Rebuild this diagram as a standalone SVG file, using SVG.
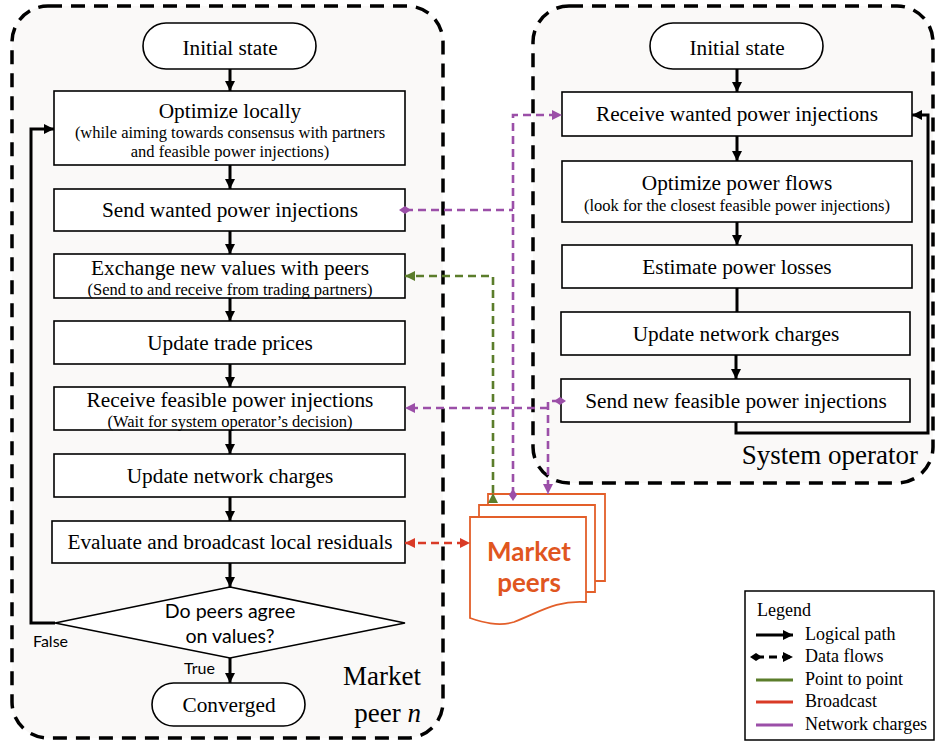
<svg xmlns="http://www.w3.org/2000/svg" width="935" height="744" viewBox="0 0 935 744">
<style>
.box{fill:#fff;stroke:#000;stroke-width:1.6}
.cont{fill:#faf9f8;stroke:#000;stroke-width:3.5;stroke-dasharray:14 9}
.t{font-family:"Liberation Serif","Times New Roman",serif;font-size:21.3px;fill:#000;text-anchor:middle}
.s{font-family:"Liberation Serif","Times New Roman",serif;font-size:16.5px;fill:#000;text-anchor:middle}
.big{font-family:"Liberation Serif","Times New Roman",serif;font-size:27px;fill:#000}
.sans{font-family:Lato,"Open Sans",sans-serif;font-size:19.6px;fill:#000;text-anchor:middle}
.lbl{font-family:Lato,"Open Sans",sans-serif;font-size:16px;fill:#000}
.flow{fill:none;stroke:#000;stroke-width:3}
.g{fill:none;stroke:#5b7d2b;stroke-width:2.6;stroke-dasharray:8 5}
.p{fill:none;stroke:#9b4fa8;stroke-width:2.6;stroke-dasharray:8 5}
.r{fill:none;stroke:#d93a26;stroke-width:2.6;stroke-dasharray:8 5}
.doc{fill:#fff;stroke:#e35f2a;stroke-width:1.8}
.lg{font-family:"Liberation Serif","Times New Roman",serif;font-size:18px;fill:#000}
</style>
<defs>
<marker id="ab" markerUnits="userSpaceOnUse" markerWidth="12" markerHeight="12" refX="10" refY="6" orient="auto"><path d="M0,1 L10,6 L0,11 Z" fill="#000"/></marker>
<marker id="ag" markerUnits="userSpaceOnUse" markerWidth="12" markerHeight="12" refX="10" refY="6" orient="auto"><path d="M0,1 L10,6 L0,11 Z" fill="#5b7d2b"/></marker>
<marker id="ap" markerUnits="userSpaceOnUse" markerWidth="12" markerHeight="12" refX="10" refY="6" orient="auto"><path d="M0,1 L10,6 L0,11 Z" fill="#9b4fa8"/></marker>
<marker id="ar" markerUnits="userSpaceOnUse" markerWidth="12" markerHeight="12" refX="10" refY="6" orient="auto-start-reverse"><path d="M0,1 L10,6 L0,11 Z" fill="#d93a26"/></marker>
<marker id="dp" markerUnits="userSpaceOnUse" markerWidth="12" markerHeight="12" refX="6" refY="6" orient="auto"><path d="M0,6 L6,2 L12,6 L6,10 Z" fill="#9b4fa8"/></marker>
<marker id="db" markerUnits="userSpaceOnUse" markerWidth="12" markerHeight="12" refX="6" refY="6" orient="auto"><path d="M0,6 L6,2 L12,6 L6,10 Z" fill="#000"/></marker>
</defs>
<rect width="935" height="744" fill="#fff"/>

<g id="market-peer-container">
<rect class="cont" x="12" y="6" width="431" height="732" rx="36"/>
<text class="big" x="421" y="685" text-anchor="end">Market</text>
<text class="big" x="421" y="722" text-anchor="end">peer <tspan font-style="italic">n</tspan></text>
</g>
<g id="system-operator-container">
<rect class="cont" x="533" y="6" width="400" height="477" rx="36"/>
<text class="big" x="918" y="464" text-anchor="end">System operator</text>
</g>

<g id="mp-initial"><rect class="box" x="143" y="23" width="173" height="46" rx="23"/><text class="t" x="230" y="55">Initial state</text></g>
<g id="mp-optimize"><rect class="box" x="54" y="91" width="351" height="74"/><text class="t" x="230" y="118">Optimize locally</text><text class="s" x="230" y="138">(while aiming towards consensus with partners</text><text class="s" x="230" y="157">and feasible power injections)</text></g>
<g id="mp-send"><rect class="box" x="54" y="189" width="351" height="42"/><text class="t" x="230" y="217">Send wanted power injections</text></g>
<g id="mp-exchange"><rect class="box" x="54" y="254" width="351" height="44"/><text class="t" x="230" y="275">Exchange new values with peers</text><text class="s" x="230" y="295">(Send to and receive from trading partners)</text></g>
<g id="mp-prices"><rect class="box" x="54" y="321" width="351" height="43"/><text class="t" x="230" y="350">Update trade prices</text></g>
<g id="mp-receive"><rect class="box" x="54" y="387" width="351" height="43"/><text class="t" x="230" y="407">Receive feasible power injections</text><text class="s" x="230" y="427">(Wait for system operator’s decision)</text></g>
<g id="mp-charges"><rect class="box" x="54" y="454" width="351" height="43"/><text class="t" x="230" y="483">Update network charges</text></g>
<g id="mp-evaluate"><rect class="box" x="52" y="521" width="353" height="42"/><text class="t" x="230" y="549">Evaluate and broadcast local residuals</text></g>
<g id="mp-decision"><polygon class="box" points="230,587 405,623 230,658 55,623"/><text class="sans" x="230" y="618">Do peers agree</text><text class="sans" x="230" y="643">on values?</text></g>
<g id="mp-converged"><rect class="box" x="152" y="683" width="153" height="43" rx="21.5"/><text class="t" x="229" y="712">Converged</text></g>

<g id="so-initial"><rect class="box" x="650" y="23" width="173" height="46" rx="23"/><text class="t" x="737" y="55">Initial state</text></g>
<g id="so-receive"><rect class="box" x="562" y="92" width="350" height="44"/><text class="t" x="737" y="121">Receive wanted power injections</text></g>
<g id="so-optimize"><rect class="box" x="562" y="161" width="350" height="61"/><text class="t" x="737" y="190">Optimize power flows</text><text class="s" x="737" y="211">(look for the closest feasible power injections)</text></g>
<g id="so-estimate"><rect class="box" x="562" y="245" width="350" height="43"/><text class="t" x="737" y="274">Estimate power losses</text></g>
<g id="so-charges"><rect class="box" x="561" y="312" width="349" height="43"/><text class="t" x="736" y="341">Update network charges</text></g>
<g id="so-send"><rect class="box" x="561" y="379" width="349" height="43"/><text class="t" x="736" y="408">Send new feasible power injections</text></g>

<g id="market-peers">
<path class="doc" d="M488,494 H605 V581 H488 Z"/>
<path class="doc" d="M479,505 H595 V592 H479 Z"/>
<path class="doc" d="M470,517 H586 V602 C556,600 540,612 514,622 C498,627 482,622 470,618 Z"/>
<text x="529" y="561" text-anchor="middle" font-family="Lato,'Open Sans',sans-serif" font-weight="bold" font-size="26" fill="#e0561f">Market</text>
<text x="529" y="592" text-anchor="middle" font-family="Lato,'Open Sans',sans-serif" font-weight="bold" font-size="26" fill="#e0561f">peers</text>
</g>

<g id="legend">
<rect x="745" y="591" width="189" height="149" fill="#fff" stroke="#000" stroke-width="1.5"/>
<text class="lg" x="757" y="616">Legend</text>
<line x1="756" y1="635" x2="793" y2="635" stroke="#000" stroke-width="3" marker-end="url(#ab)"/>
<text class="lg" x="805" y="640">Logical path</text>
<line x1="756" y1="657" x2="793" y2="657" stroke="#000" stroke-width="3" stroke-dasharray="8 5" marker-start="url(#db)" marker-end="url(#ab)"/>
<text class="lg" x="805" y="662">Data flows</text>
<line x1="756" y1="680" x2="793" y2="680" stroke="#5b7d2b" stroke-width="3"/>
<text class="lg" x="805" y="685">Point to point</text>
<line x1="756" y1="702" x2="793" y2="702" stroke="#d93a26" stroke-width="3"/>
<text class="lg" x="805" y="707">Broadcast</text>
<line x1="756" y1="725" x2="793" y2="725" stroke="#9b4fa8" stroke-width="3"/>
<text class="lg" x="805" y="730">Network charges</text>
</g>

<g id="connectors">
<line class="flow" x1="230" y1="69" x2="230" y2="91" marker-end="url(#ab)"/>
<line class="flow" x1="230" y1="165" x2="230" y2="189" marker-end="url(#ab)"/>
<line class="flow" x1="230" y1="231" x2="230" y2="254" marker-end="url(#ab)"/>
<line class="flow" x1="230" y1="298" x2="230" y2="321" marker-end="url(#ab)"/>
<line class="flow" x1="230" y1="364" x2="230" y2="387" marker-end="url(#ab)"/>
<line class="flow" x1="230" y1="430" x2="230" y2="454" marker-end="url(#ab)"/>
<line class="flow" x1="230" y1="497" x2="230" y2="521" marker-end="url(#ab)"/>
<line class="flow" x1="230" y1="563" x2="230" y2="587" marker-end="url(#ab)"/>
<line class="flow" x1="230" y1="658" x2="230" y2="683" marker-end="url(#ab)"/>
<polyline class="flow" points="55,623 31,623 31,129 54,129" marker-end="url(#ab)"/>
<text class="lbl" x="33" y="647">False</text>
<text class="lbl" x="184" y="674">True</text>

<line class="flow" x1="737" y1="69" x2="737" y2="92" marker-end="url(#ab)"/>
<line class="flow" x1="737" y1="136" x2="737" y2="161" marker-end="url(#ab)"/>
<line class="flow" x1="737" y1="222" x2="737" y2="245" marker-end="url(#ab)"/>
<line class="flow" x1="737" y1="288" x2="737" y2="312"/>
<line class="flow" x1="736" y1="355" x2="736" y2="379" marker-end="url(#ab)"/>
<polyline class="flow" points="736,422 736,433 928,433 928,115 912,115" marker-end="url(#ab)"/>

<polyline class="p" points="405,210 513,210" marker-start="url(#dp)"/>
<polyline class="p" points="513,495 513,115 562,115" marker-start="url(#dp)" marker-end="url(#ap)"/>
<polyline class="g" points="493,493 493,276 405,276" marker-end="url(#ag)" marker-start="url(#ag)"/>
<polyline class="p" points="560,401 548,401 548,494" marker-start="url(#dp)" marker-end="url(#ap)"/>
<polyline class="p" points="548,408 405,408" marker-end="url(#ap)"/>
<line class="r" x1="405" y1="543" x2="470" y2="543" marker-start="url(#ar)" marker-end="url(#ar)"/>
</g>
</svg>
